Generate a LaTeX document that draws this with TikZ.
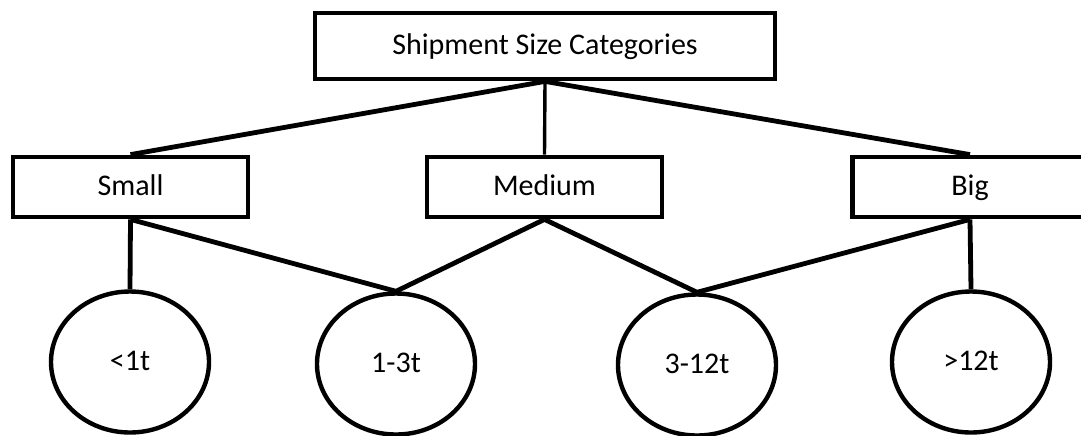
\documentclass[tikz,border=0pt]{standalone}
\usepackage{fontspec}
\setmainfont{Carlito}
\usetikzlibrary{shapes.geometric}

\begin{document}
\begin{tikzpicture}[x=0.5pt,y=-0.5pt,
    catbox/.style={draw, line width=2.4pt, minimum width=117.5pt, minimum height=30pt, text height=0.95em, text depth=0.1em, font=\fontsize{15pt}{17pt}\selectfont},
    sizeball/.style={draw, ellipse, line width=2.2pt, minimum width=79pt, minimum height=70.5pt, inner sep=0pt, text height=0.95em, text depth=0.1em, font=\fontsize{15pt}{17pt}\selectfont},
    link/.style={line width=2.4pt}]
        \useasboundingbox (0,0) rectangle (1081,435);
        \node[catbox, minimum width=230pt, minimum height=33pt] (root) at (545,46) {Shipment Size Categories};
        \node[catbox] (small) at (130.5,187) {Small};
        \node[catbox] (medium) at (544.5,187) {Medium};
        \node[catbox] (big) at (970,187) {Big};
        \node[sizeball] (lt1) at (130,362) {<1t};
        \node[sizeball] (t1to3) at (396,364) {1-3t};
        \node[sizeball] (t3to12) at (697,365) {3-12t};
        \node[sizeball] (gt12) at (971,362) {>12t};
        \draw[link] (root.south) -- (small.north);
        \draw[line width=1.7pt] (root.south) -- (medium.north);
        \draw[link] (root.south) -- (big.north);
        \draw[link] (small.south) -- (lt1.north);
        \draw[link] (small.south) -- (t1to3.north);
        \draw[link] (medium.south) -- (t1to3.north);
        \draw[link] (medium.south) -- (t3to12.north);
        \draw[link] (big.south) -- (t3to12.north);
        \draw[link] (big.south) -- (gt12.north);
    \end{tikzpicture}
\end{document}
